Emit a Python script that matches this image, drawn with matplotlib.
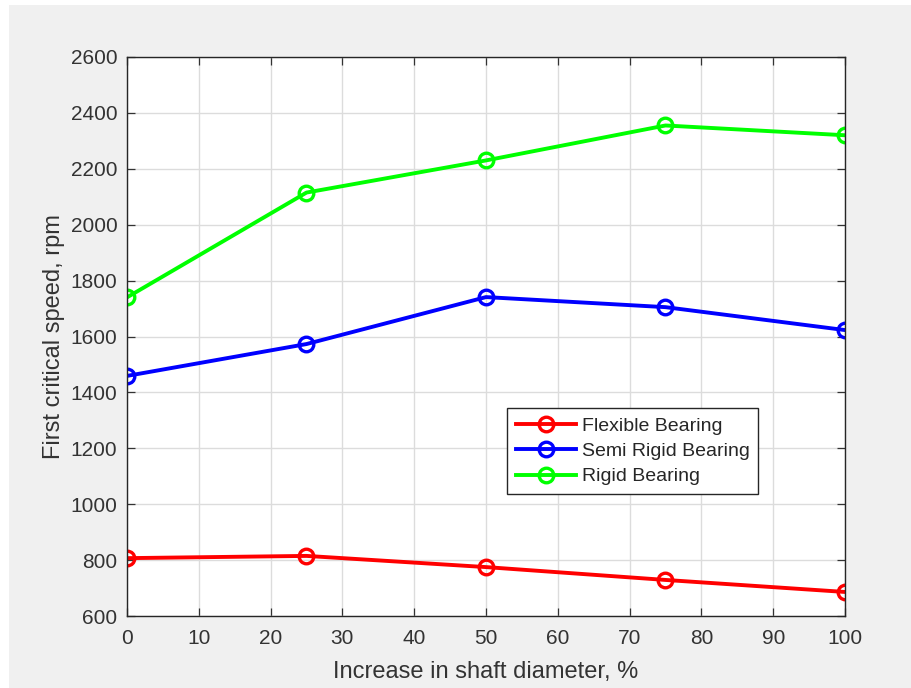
import matplotlib.pyplot as plt
from matplotlib.patches import Rectangle

plt.rcParams['font.family'] = ['Liberation Sans', 'DejaVu Sans']

diameter_increase = [0, 25, 50, 75, 100]
flexible = [807, 815, 775, 729, 686]
semi_rigid = [1459, 1573, 1741, 1705, 1623]
rigid = [1740, 2115, 2230, 2355, 2320]

series = [
    ("Flexible Bearing", flexible, "#ff0000"),
    ("Semi Rigid Bearing", semi_rigid, "#0000ff"),
    ("Rigid Bearing", rigid, "#00ff00"),
]

fig = plt.figure(figsize=(9.12, 6.88), dpi=100, facecolor="white")
# matlab-ish grey figure area, small white margin top/left
fig.patches.append(Rectangle((9 / 912, 0), 1, 1 - 5 / 688, transform=fig.transFigure,
                             facecolor="#f0f0f0", edgecolor="none", zorder=-10))

ax = fig.add_axes([127 / 912, 72 / 688, 718 / 912, 559 / 688])
ax.set_facecolor("white")

for name, vals, col in series:
    ax.plot(diameter_increase, vals, color=col, linewidth=2.8, marker="o",
            markersize=10.5, markerfacecolor="none", markeredgewidth=2.4, label=name)

ax.set_xlim(0, 100)
ax.set_ylim(600, 2600)
ax.set_xticks(range(0, 101, 10))
ax.set_yticks(range(600, 2601, 200))
ax.grid(True, color="#dcdcdc", linewidth=1.0)
ax.set_axisbelow(True)
ax.tick_params(direction="in", top=True, right=True, length=6, width=0.9,
               labelsize=15, colors="#333333")
ax.tick_params(axis="x", pad=9)
ax.tick_params(axis="y", pad=7)
for s in ax.spines.values():
    s.set_color("#262626")
    s.set_linewidth(1.0)

ax.set_xlabel("Increase in shaft diameter, %", fontsize=17, color="#333333", labelpad=10)
ax.set_ylabel("First critical speed, rpm", fontsize=17, color="#333333", labelpad=4)

leg = ax.legend(loc="lower left", bbox_to_anchor=(0.529, 0.218), fontsize=14,
                fancybox=False, framealpha=1, edgecolor="#262626",
                handlelength=3.1, borderpad=0.45, labelspacing=0.4, handletextpad=0.3,
                borderaxespad=0)
leg.get_frame().set_linewidth(1.0)
for t in leg.get_texts():
    t.set_color("#262626")

fig.savefig("out.png", dpi=100, facecolor=fig.get_facecolor())
